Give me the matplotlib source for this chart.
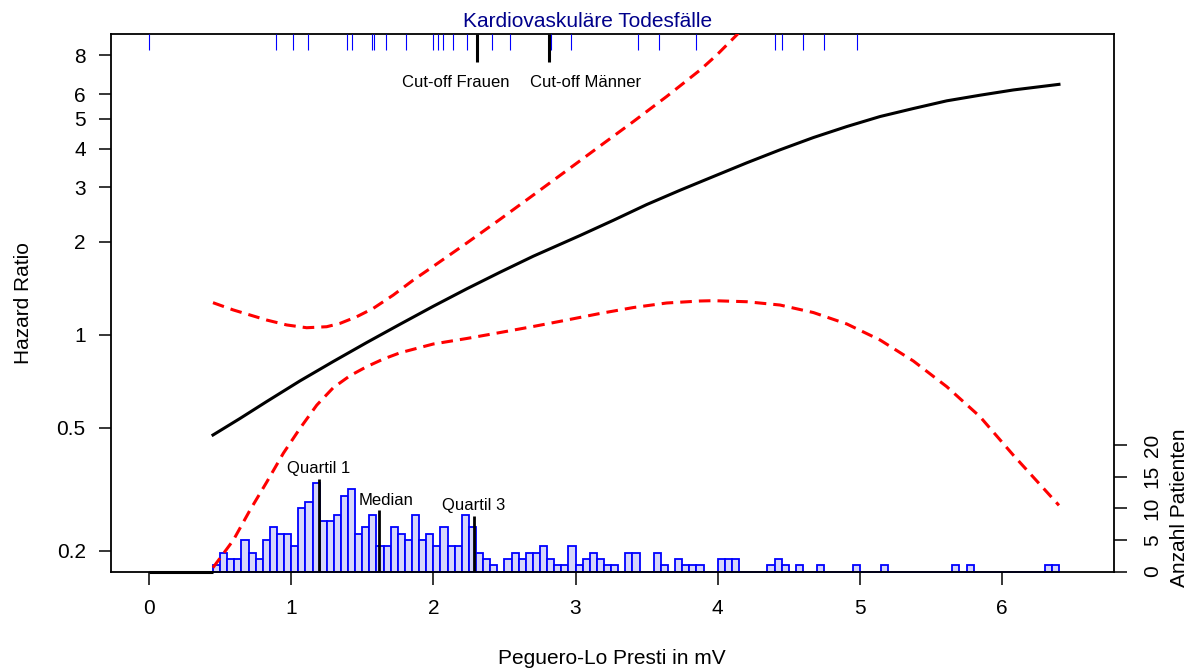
import numpy as np
import matplotlib
matplotlib.use("Agg")
import matplotlib.pyplot as plt
from matplotlib.transforms import blended_transform_factory

plt.rcParams['font.family'] = ['Liberation Sans', 'DejaVu Sans']

# ---------------- data ----------------
# Hazard ratio spline (solid black)
hr_x = [0.45, 0.640, 0.828, 1.062, 1.296, 1.531, 1.766, 2.000, 2.235, 2.469, 2.703, 3.032,
        3.266, 3.501, 3.735, 3.969, 4.204, 4.438, 4.673, 4.908, 5.142, 5.376, 5.611, 5.845,
        6.079, 6.40]
hr_y = [0.473, 0.535, 0.607, 0.708, 0.818, 0.942, 1.080, 1.235, 1.406, 1.591, 1.793, 2.092,
        2.343, 2.635, 2.931, 3.246, 3.595, 3.961, 4.341, 4.712, 5.077, 5.389, 5.707, 5.951,
        6.188, 6.452]

# Upper 95% CI (red dashed)
up_x = [0.45, 0.593, 0.828, 0.969, 1.109, 1.250, 1.344, 1.461, 1.578, 1.718, 1.859, 2.000,
        2.235, 2.469, 2.703, 2.938, 3.172, 3.407, 3.641, 3.876, 3.993, 4.145]
up_y = [1.268, 1.201, 1.114, 1.074, 1.052, 1.060, 1.087, 1.142, 1.216, 1.342, 1.501, 1.663,
        1.978, 2.360, 2.828, 3.395, 4.075, 4.891, 5.895, 7.179, 8.028, 9.437]

# Lower 95% CI (red dashed)
lo_x = [0.45, 0.593, 0.710, 0.828, 0.945, 1.062, 1.180, 1.296, 1.414, 1.531, 1.648, 1.766,
        2.000, 2.235, 2.469, 2.703, 2.938, 3.172, 3.407, 3.641, 3.876, 3.969, 4.204, 4.438,
        4.673, 4.908, 5.142, 5.376, 5.611, 5.845, 6.079, 6.40]
lo_y = [0.176, 0.216, 0.270, 0.333, 0.413, 0.497, 0.591, 0.673, 0.736, 0.787, 0.833, 0.873,
        0.932, 0.971, 1.015, 1.062, 1.114, 1.170, 1.223, 1.265, 1.284, 1.287, 1.277, 1.246,
        1.178, 1.082, 0.960, 0.821, 0.678, 0.542, 0.407, 0.280]

# Cardiovascular deaths (rug at top)
deaths = [0.00, 0.89, 1.01, 1.12, 1.39, 1.43, 1.57, 1.58, 1.67, 1.81, 2.00, 2.03, 2.07,
          2.14, 2.24, 2.41, 2.54, 2.83, 2.97, 3.44, 3.59, 3.85, 4.40, 4.45, 4.60, 4.75, 4.98]

# Cut-offs
cutoff_x = [2.31, 2.81]
cutoff_labels = ["Cut-off Frauen", "Cut-off Männer"]
cutoff_label_x = [2.155, 3.067]

# Histogram of patients (bin width 0.05 mV starting at 0.45 mV)
bin_start = 0.45
bin_width = 0.05
counts = [1, 3, 2, 2, 5, 3, 2, 5, 7, 6, 6, 4, 10, 11, 14, 8, 8, 9, 12, 13,
          6, 7, 9, 4, 4, 7, 6, 5, 9, 5, 6, 4, 7, 4, 4, 9, 7, 3, 2, 1,
          0, 2, 3, 2, 3, 3, 4, 2, 1, 1, 4, 1, 2, 3, 2, 1, 1, 0, 3, 3,
          0, 0, 3, 1, 0, 2, 1, 1, 1, 0, 0, 2, 2, 2, 0, 0, 0, 0, 1, 2,
          1, 0, 1, 0, 0, 1, 0, 0, 0, 0, 1, 0, 0, 0, 1, 0, 0, 0, 0, 0,
          0, 0, 0, 0, 1, 0, 1, 0, 0, 0, 0, 0, 0, 0, 0, 0, 0, 1, 1]

# Quartiles of the distribution
quart_x = [1.198, 1.620, 2.286]
quart_top = [14.6, 9.7, 8.8]
quart_labels = ["Quartil 1", "Median", "Quartil 3"]
quart_label_x = [1.196, 1.665, 2.286]
quart_label_y = [15.5, 10.5, 9.75]

x_ticks = [0, 1, 2, 3, 4, 5, 6]
y_ticks = [0.2, 0.5, 1, 2, 3, 4, 5, 6, 8]
y_ticklabels = ["0.2", "0.5", "1", "2", "3", "4", "5", "6", "8"]
count_ticks = [0, 5, 10, 15, 20]

# ---------------- figure ----------------
W, H = 1195, 671
fig = plt.figure(figsize=(W / 100, H / 100), dpi=100)
ax = fig.add_axes([110.7 / W, 1 - 571.5 / H, (1113.5 - 110.7) / W, (571.5 - 34) / H])
ax2 = ax.twinx()
ax.set_zorder(ax2.get_zorder() + 1)
ax.patch.set_visible(False)

# histogram on secondary (count) axis
edges = np.round(bin_start + bin_width * np.arange(len(counts)), 3)
ax2.bar(edges, counts, width=bin_width, align='edge', facecolor='#d6d6fa',
        edgecolor='#0000ff', linewidth=1.3, clip_on=False, zorder=2)
ax2.plot([0, bin_start], [0, 0], color='black', lw=2.2, solid_capstyle='butt',
         clip_on=False, zorder=3)
for qx, qt in zip(quart_x, quart_top):
    ax2.plot([qx, qx], [0, qt], color='black', lw=2.0, solid_capstyle='butt', zorder=4)
for lx, ly, lab in zip(quart_label_x, quart_label_y, quart_labels):
    ax2.text(lx, ly, lab, ha='center', va='baseline', fontsize=12, zorder=5)

ax2.set_ylim(0, 537.5 / 6.33)
ax2.set_yticks(count_ticks)
ax2.set_yticklabels([str(c) for c in count_ticks])
ax2.tick_params(axis='y', direction='out', length=9, width=1.1, labelsize=15,
                pad=12, labelrotation=90)
for lab in ax2.get_yticklabels():
    lab.set_va('center')
for s in ax2.spines.values():
    s.set_visible(False)
ax2.set_ylabel("Anzahl Patienten", fontsize=15)
ax2.yaxis.set_label_coords(1.0560, 10 / (537.5 / 6.33))

# curves on log axis
ax.set_yscale('log')
ax.plot(hr_x, hr_y, color='black', lw=2.2, zorder=5)
ax.plot(up_x, up_y, color='#ff0000', lw=2.2, ls=(0, (3.8, 2.3)), zorder=4)
ax.plot(lo_x, lo_y, color='#ff0000', lw=2.2, ls=(0, (3.8, 2.3)), zorder=4)

ax.set_xlim(-0.2694, 6.7836)
ax.set_ylim(0.17104, 9.39)

# rug of deaths and cut-offs
trans = blended_transform_factory(ax.transData, ax.transAxes)
ax.vlines(deaths, 1 - 16 / 537.5, 1, color='#0000ff', lw=0.8, transform=trans, zorder=3)
ax.vlines(cutoff_x, 1 - 28 / 537.5, 1, color='black', lw=2.2, transform=trans, zorder=6)
for cx, lab in zip(cutoff_label_x, cutoff_labels):
    ax.text(cx, (571.5 - 87.3) / 537.5, lab, transform=trans, ha='center',
            va='baseline', fontsize=12)
ax.text(3.084, (571.5 - 27.3) / 537.5, "Kardiovaskuläre Todesfälle", transform=trans,
        ha='center', va='baseline', fontsize=15, color='#00008b')

ax.set_xticks(x_ticks)
ax.set_xticklabels([str(t) for t in x_ticks])
ax.set_yticks(y_ticks)
ax.set_yticklabels(y_ticklabels)
ax.yaxis.set_minor_locator(matplotlib.ticker.NullLocator())
ax.tick_params(axis='both', direction='out', length=9, width=1.1, labelsize=15)
ax.tick_params(axis='x', pad=11)
ax.tick_params(axis='y', pad=9)
for s in ax.spines.values():
    s.set_linewidth(1.3)

ax.set_xlabel("Peguero-Lo Presti in mV", fontsize=15)
ax.xaxis.set_label_coords(0.5, -0.1442)
ax.set_ylabel("Hazard Ratio", fontsize=15)
ax.yaxis.set_label_coords(-0.0778, 0.5)

fig.savefig("out.png", dpi=100, facecolor='white')
